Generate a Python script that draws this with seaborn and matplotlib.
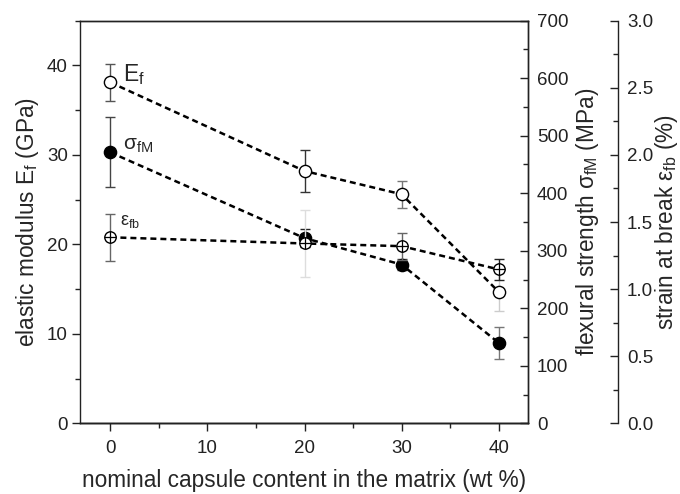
import numpy as np
import pandas as pd
import matplotlib
matplotlib.use("Agg")
import matplotlib.pyplot as plt
import seaborn as sns
from matplotlib.ticker import MultipleLocator

# ---- data ----
content = [0, 20, 30, 40]
modulus = [38.1, 28.2, 25.6, 14.7]
modulus_err = [2.1, 2.35, 1.5, 2.1]
strength = [471, 322, 276, 140]
strength_err = [61, 15, 10, 28]
strain = [1.386, 1.34, 1.32, 1.147]
strain_err = [0.175, 0.25, 0.10, 0.078]

sns.set_theme(style="ticks")
plt.rcParams['font.family'] = ['Liberation Sans', 'DejaVu Sans']
plt.rcParams['mathtext.fontset'] = 'custom'
plt.rcParams['mathtext.rm'] = 'Liberation Sans'
plt.rcParams['mathtext.it'] = 'Liberation Sans:italic'
plt.rcParams['axes.linewidth'] = 1.0
plt.rcParams['axes.edgecolor'] = '#222222'

fig = plt.figure(figsize=(6.8, 4.94), dpi=100)
ax = fig.add_axes([0.1181, 0.1431, 0.658, 0.815])
ax2 = ax.twinx()
ax3 = ax.twinx()
ax3.spines['right'].set_position(('axes', 1.2018))
for a in (ax, ax2, ax3):
    a.set_facecolor('none')

df = pd.DataFrame({'x': content, 'E': modulus, 'S': strength, 'e': strain})

line_kw = dict(color='black', linestyle=(0, (2.4, 1.6)), linewidth=1.8)
ms = 8.8

# error bars (drawn first)
err_cols_E = ['#555555', '#333333', '#777777', '#cccccc']
err_cols_S = ['#444444', '#222222', '#444444', '#777777']
err_cols_e = ['#666666', '#dddddd', '#666666', '#222222']
for i in range(len(content)):
    ax.errorbar(content[i], modulus[i], yerr=modulus_err[i], fmt='none',
                ecolor=err_cols_E[i], elinewidth=1.0, capsize=3.5, capthick=1.0, zorder=1)
    ax2.errorbar(content[i], strength[i], yerr=strength_err[i], fmt='none',
                 ecolor=err_cols_S[i], elinewidth=1.0, capsize=3.5, capthick=1.0, zorder=1)
    ax3.errorbar(content[i], strain[i], yerr=strain_err[i], fmt='none',
                 ecolor=err_cols_e[i], elinewidth=1.0, capsize=3.5, capthick=1.0, zorder=1)

sns.lineplot(data=df, x='x', y='E', ax=ax, marker='o', markersize=ms,
             markerfacecolor='white', markeredgecolor='black', markeredgewidth=1.0,
             zorder=3, **line_kw)
sns.lineplot(data=df, x='x', y='S', ax=ax2, marker='o', markersize=ms,
             markerfacecolor='black', markeredgecolor='black', markeredgewidth=1.0,
             zorder=3, **line_kw)
sns.lineplot(data=df, x='x', y='e', ax=ax3, marker='o', markersize=ms - 0.6,
             markerfacecolor='white', markeredgecolor='black', markeredgewidth=1.0,
             zorder=3, **line_kw)
ax3.plot(df['x'], df['e'], linestyle='none', marker='+', markersize=ms - 0.6,
         markeredgecolor='black', markeredgewidth=0.9, zorder=4)

# axes limits & ticks
ax.set_xlim(-3.1, 43)
ax.set_ylim(0, 45)
ax2.set_ylim(0, 700)
ax3.set_ylim(0, 3.0)

ax.xaxis.set_major_locator(MultipleLocator(10))
ax.xaxis.set_minor_locator(MultipleLocator(5))
ax.yaxis.set_major_locator(MultipleLocator(10))
ax.yaxis.set_minor_locator(MultipleLocator(5))
ax2.yaxis.set_major_locator(MultipleLocator(100))
ax2.yaxis.set_minor_locator(MultipleLocator(50))
ax3.yaxis.set_major_locator(MultipleLocator(0.5))
ax3.yaxis.set_minor_locator(MultipleLocator(0.25))
ax3.yaxis.set_major_formatter(matplotlib.ticker.FormatStrFormatter('%.1f'))

ax.tick_params(which='major', direction='out', length=6, width=1.0,
               labelsize=13.5, colors='#222222', pad=3)
ax.tick_params(which='minor', direction='out', length=3.5, width=1.0, colors='#222222')
for a in (ax2, ax3):
    a.tick_params(which='major', direction='in', length=6, width=1.0,
                  labelsize=13.5, colors='#222222', pad=6.5)
    a.tick_params(which='minor', direction='in', length=3.5, width=1.0, colors='#222222')
ax.tick_params(axis='x', which='both', top=False)
ax.tick_params(axis='x', which='major', pad=6)

ax3.spines['top'].set_visible(False)
ax3.spines['left'].set_visible(False)
ax2.spines['left'].set_visible(False)

ax.set_xlabel('nominal capsule content in the matrix (wt %)', fontsize=16.3, labelpad=9)
ax.set_ylabel(r'elastic modulus E$_\mathregular{f}$ (GPa)', fontsize=16.3, labelpad=4)
ax2.set_ylabel(r'flexural strength $\mathregular{σ_{fM}}$ (MPa)', fontsize=16.3, labelpad=4)
ax3.set_ylabel(r'strain at break $\mathregular{ε_{fb}}$ (%)', fontsize=16.3, labelpad=0)

# annotations
ax.text(1.3, 39.0, r'E$_\mathregular{f}$', fontsize=16.5, ha='left', va='center')
ax.text(1.3, 31.0, r'$\mathregular{σ_{fM}}$', fontsize=15, ha='left', va='center')
ax.text(1.0, 22.6, r'$\mathregular{ε_{fb}}$', fontsize=13, ha='left', va='center')

fig.savefig('out.png', dpi=100)
